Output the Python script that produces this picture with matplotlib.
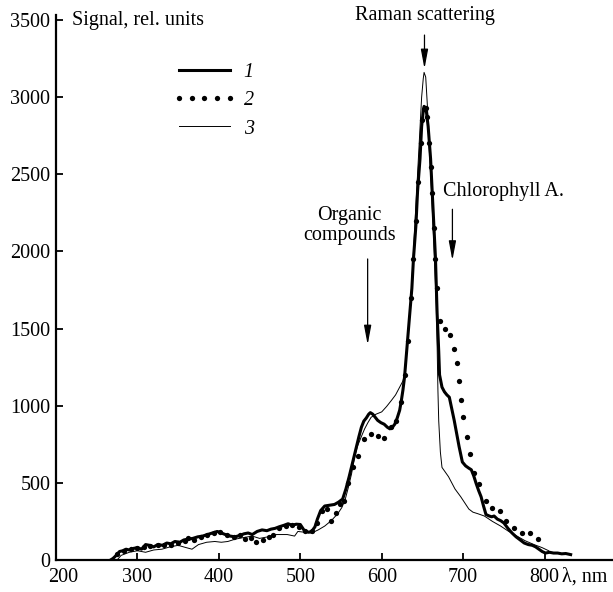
import matplotlib
matplotlib.use("Agg")
import matplotlib.pyplot as plt
import matplotlib.transforms as mtransforms
from matplotlib.lines import Line2D

plt.rcParams['font.family'] = ['Liberation Serif', 'DejaVu Serif']
plt.rcParams['font.size'] = 14.5

# spectrum 1 (thick solid line)
wl1 = [267, 270, 274, 278, 282, 286, 290, 295, 300, 305, 310, 315, 320, 325, 331, 336,
       341, 346, 352, 357, 362, 368, 374, 380, 386, 392, 398, 403, 408, 414, 420, 426,
       431, 436, 441, 447, 453, 459, 464, 469, 474, 480, 485, 490, 495, 500, 505, 510,
       514, 518, 521, 525, 530, 536, 542, 547, 552, 556, 560, 563, 566, 569, 572, 575,
       578, 581, 584, 586, 589, 592, 595, 599, 603, 607, 610, 613, 616, 619, 622, 624,
       626, 628, 631, 634, 637, 639, 642, 644, 647, 649, 651, 652, 654, 655, 657, 660,
       662, 664, 666, 668, 670, 671, 674, 677, 680, 683, 686, 689, 692, 695, 699, 703,
       707, 710, 713, 716, 719, 722, 725, 728, 732, 735, 738, 742, 746, 750, 755, 760,
       765, 770, 775, 780, 785, 789, 793, 797, 801, 806, 811, 816, 821, 826, 832]
sig1 = [0, 10, 30, 55, 60, 70, 65, 75, 80, 70, 100, 95, 85, 100, 95, 110,
        105, 120, 115, 130, 135, 140, 150, 155, 165, 175, 185, 175, 165, 155, 150, 160,
        170, 175, 165, 185, 195, 190, 200, 205, 215, 225, 235, 225, 232, 230, 190, 180,
        185, 215, 265, 320, 350, 355, 360, 375, 395, 460, 540, 605, 670, 735, 800, 860,
        900, 920, 945, 955, 945, 925, 905, 890, 880, 860, 850, 860, 880, 920, 970, 1030,
        1100, 1185, 1380, 1570, 1760, 1955, 2170, 2390, 2600, 2810, 2910, 2940, 2930, 2900, 2810, 2600,
        2390, 2170, 1955, 1600, 1350, 1200, 1120, 1090, 1070, 1055, 980, 905, 820, 735, 635, 610,
        595, 585, 545, 495, 450, 410, 350, 295, 285, 280, 285, 265, 255, 240, 205, 175,
        150, 130, 110, 100, 95, 85, 70, 55, 45, 50, 45, 45, 40, 42, 35]

# spectrum 2 (dots)
wl2 = [275, 283, 292, 300, 308, 316, 325, 333, 341, 350, 358, 362, 370, 378, 386, 394,
       402, 410, 418, 426, 432, 440, 445, 454, 461, 466, 474, 482, 490, 498, 506, 514,
       520, 527, 533, 538, 544, 549, 554, 559, 565, 571, 578, 587, 595, 603, 611, 617,
       624, 628, 632, 636, 639, 642, 645, 648, 650, 652, 654, 656, 658, 660, 662, 664,
       666, 668, 671, 678, 684, 689, 692, 695, 697, 700, 705, 708, 713, 720, 728, 736,
       745, 753, 762, 772, 782, 792]
sig2 = [40, 60, 70, 80, 85, 90, 95, 100, 100, 110, 125, 140, 130, 150, 160, 175,
        180, 160, 150, 160, 135, 145, 115, 130, 150, 160, 205, 220, 225, 215, 185, 185,
        240, 320, 330, 250, 305, 360, 380, 500, 605, 675, 785, 815, 805, 790, 860, 900,
        1025, 1200, 1420, 1700, 1950, 2200, 2450, 2700, 2850, 2920, 2930, 2870, 2700, 2550, 2380, 2150,
        1950, 1760, 1550, 1500, 1455, 1365, 1275, 1160, 1040, 925, 800, 690, 565, 490, 385, 335,
        315, 250, 210, 175, 175, 135]

# spectrum 3 (thin line)
wl3 = [275, 280, 290, 300, 310, 320, 330, 340, 350, 360, 367, 375, 385, 395, 403, 411,
       420, 430, 441, 450, 460, 470, 484, 493, 497, 505, 514, 522, 530, 538, 546, 551,
       555, 559, 563, 566, 570, 575, 579, 583, 587, 593, 600, 606, 612, 617, 622, 626,
       628, 632, 636, 640, 644, 647, 649, 651, 652, 654, 656, 658, 661, 664, 667, 668,
       669, 670, 672, 674, 678, 682, 686, 690, 697, 702, 707, 712, 718, 726, 736, 746,
       756, 766, 776, 787, 797, 805]
sig3 = [0, 30, 50, 60, 50, 65, 70, 85, 95, 80, 70, 100, 115, 120, 115, 120,
        135, 145, 155, 140, 150, 165, 165, 155, 185, 180, 175, 195, 220, 255, 300, 340,
        390, 470, 560, 650, 735, 800, 850, 890, 925, 945, 960, 995, 1035, 1070, 1120, 1160,
        1200, 1450, 1700, 2100, 2500, 2800, 3000, 3120, 3160, 3130, 2950, 2700, 2400, 2050, 1650, 1400,
        1100, 900, 700, 600, 570, 540, 500, 460, 410, 370, 330, 310, 300, 285, 250, 220,
        185, 155, 125, 100, 80, 60]

xticks = [200, 300, 400, 500, 600, 700, 800]
yticks = [0, 500, 1000, 1500, 2000, 2500, 3000, 3500]

fig = plt.figure(figsize=(6.13, 5.92), dpi=100)
ax = fig.add_axes([56 / 613, 32 / 592, 557 / 613, 545 / 592])

ax.plot(wl1, sig1, color='black', lw=2.2, solid_joinstyle='round')
ax.plot(wl2, sig2, 'o', color='black', ms=3.8, mew=0)
ax.plot(wl3, sig3, color='black', lw=0.7)

ax.set_xlim(200, 884)
ax.set_ylim(0, 3532)
ax.set_xticks(xticks)
ax.set_yticks(yticks)
ax.spines['top'].set_visible(False)
ax.spines['right'].set_visible(False)
ax.spines['left'].set_linewidth(1.6)
ax.spines['bottom'].set_linewidth(1.6)
ax.tick_params(direction='in', length=5, width=1.3, pad=4)
ax.tick_params(axis='x', pad=6)

# nudge the "200" label right so it clears the "0" of the y axis
lbl200 = ax.get_xticklabels()[0]
lbl200.set_transform(lbl200.get_transform() +
                     mtransforms.ScaledTranslation(7 / 100, 0, fig.dpi_scale_trans))

# legend
handles = [Line2D([], [], color='black', lw=2.2),
           Line2D([], [], color='black', ls='none', marker='o', ms=3.8, mew=0),
           Line2D([], [], color='black', lw=0.7)]
leg = ax.legend(handles, ['1', '2', '3'], loc='upper left', bbox_to_anchor=(0.178, 0.945),
                frameon=False, handlelength=3.1, numpoints=5, labelspacing=0.45,
                handletextpad=0.4)
for t in leg.get_texts():
    t.set_fontstyle('italic')

fig.text(72 / 613, 1 - 20 / 592, 'Signal, rel. units', ha='left', va='center')
fig.text(562 / 613, 1 - 577 / 592, 'λ, nm', ha='left', va='center')

arrow = dict(arrowstyle='-|>,head_length=0.8,head_width=0.15', color='black', lw=0.9)
ax.annotate('', xy=(652.5, 3166), xytext=(652.5, 3420), arrowprops=arrow)
ax.text(652.5, 3530, 'Raman scattering', ha='center', va='center', clip_on=False)

ax.annotate('', xy=(582.7, 1377), xytext=(582.7, 1969), arrowprops=arrow)
ax.text(560.7, 2170, 'Organic\ncompounds', ha='center', va='center', linespacing=1.05)

ax.annotate('', xy=(686.8, 1924), xytext=(686.8, 2291), arrowprops=arrow)
ax.text(675, 2387, 'Chlorophyll A.', ha='left', va='center')

fig.savefig('out.png', dpi=100)
